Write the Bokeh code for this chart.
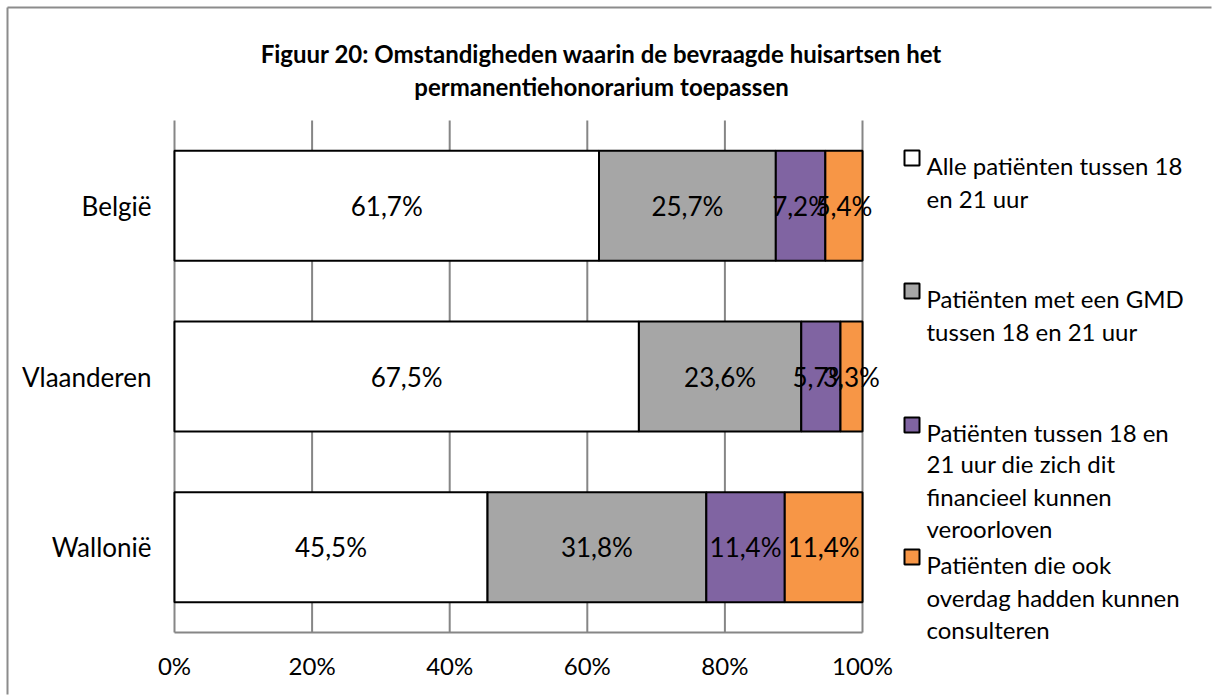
from bokeh.plotting import figure
from bokeh.models import ColumnDataSource, Range1d
from bokeh.core.properties import value
from bokeh.embed import file_html
from bokeh.resources import INLINE

# ---- data ----
regions = ["België", "Vlaanderen", "Wallonië"]
series_names = [
    "Alle patiënten tussen 18 en 21 uur",
    "Patiënten met een GMD tussen 18 en 21 uur",
    "Patiënten tussen 18 en 21 uur die zich dit financieel kunnen veroorloven",
    "Patiënten die ook overdag hadden kunnen consulteren",
]
alle = [61.7, 67.5, 45.5]
gmd = [25.7, 23.6, 31.8]
financieel = [7.2, 5.7, 11.4]
overdag = [5.4, 3.3, 11.4]
x_ticks = [0, 20, 40, 60, 80, 100]
x_tick_labels = ["0%", "20%", "40%", "60%", "80%", "100%"]
title_lines = ["Figuur 20: Omstandigheden waarin de bevraagde huisartsen het",
               "permanentiehonorarium toepassen"]
legend_lines = [
    ["Alle patiënten tussen 18", "en 21 uur"],
    ["Patiënten met een GMD", "tussen 18 en 21 uur"],
    ["Patiënten tussen 18 en", "21 uur die zich dit", "financieel kunnen", "veroorloven"],
    ["Patiënten die ook", "overdag hadden kunnen", "consulteren"],
]
colors = ["#FFFFFF", "#A6A6A6", "#8064A2", "#F79646"]

FONT = value("Lato")
GRID = "#868686"
W, H = 1212, 695
# plot area inside the canvas (pixels)
FL, FR, FT, FB = 174, 862, 120, 632
n = len(regions)
ypos = [n - i - 0.5 for i in range(n)]   # first category on top

# value ranges chosen so that 0..100 % and 0..n fill the plot area exactly
xs = 100.0 / (FR - FL)
ys = n / (FB - FT)
p = figure(width=W, height=H, output_backend="svg", toolbar_location=None,
           x_range=Range1d(-FL * xs, (W - FL) * xs),
           y_range=Range1d(-(H - FB) * ys, FB * ys),
           x_axis_location=None, y_axis_location=None,
           min_border=0, min_border_left=0, min_border_right=0,
           min_border_top=0, min_border_bottom=0)
p.extra_x_ranges = {"px": Range1d(0, W)}
p.extra_y_ranges = {"px": Range1d(H, 0)}
p.outline_line_color = None
p.background_fill_color = "white"
p.border_fill_color = "white"
p.grid.visible = False

# outer chart border (left and top edges visible)
p.segment(x0=[7, 7], y0=[H - 1, 7], x1=[7, W - 1], y1=[7, 7], x_range_name="px",
          y_range_name="px", line_color="#8c8c8c", line_width=2)

# vertical gridlines and axis lines
p.segment(x0=x_ticks, x1=x_ticks, y0=[0] * len(x_ticks), y1=[n] * len(x_ticks),
          line_color=GRID, line_width=2)
p.segment(x0=[0], x1=[100], y0=[0], y1=[0], line_color=GRID, line_width=2)

# stacked bars
series = [alle, gmd, financieel, overdag]
lefts = [0.0] * n
for vals, col in zip(series, colors):
    rights = [min(l + v, 100.0) for l, v in zip(lefts, vals)]
    src = ColumnDataSource(dict(y=ypos, left=lefts, right=rights,
                                xc=[(l + r) / 2 for l, r in zip(lefts, rights)],
                                txt=[("%.1f%%" % v).replace(".", ",") for v in vals]))
    p.hbar(y="y", left="left", right="right", height=0.645, source=src,
           fill_color=col, line_color="black", line_width=2)
    p.text(x="xc", y="y", text="txt", source=src, text_align="center",
           text_baseline="middle", text_font=FONT, text_font_size=value("26px"),
           text_color="black")
    lefts = rights

# tick labels
p.text(x=x_ticks, y=[0] * len(x_ticks), text=x_tick_labels, y_offset=33,
       text_align="center", text_baseline="middle", text_font=FONT,
       text_font_size=value("24px"), text_color="black")
p.text(x=[0] * n, y=ypos, text=regions, x_offset=-23, text_align="right",
       text_baseline="middle", text_font=FONT, text_font_size=value("26px"),
       text_color="black")

# title
p.text(x=[601, 601], y=[53, 86], text=title_lines, x_range_name="px", y_range_name="px",
       text_align="center", text_baseline="alphabetic", text_font=FONT,
       text_font_style="bold", text_font_size=value("24px"), text_color="black")

# legend
baselines = [[165, 198], [298, 331], [432, 463, 496, 528], [564, 597, 629]]
p.quad(left=[904] * 4, right=[919] * 4, top=[b[0] - 15 for b in baselines],
       bottom=[b[0] for b in baselines], x_range_name="px", y_range_name="px",
       fill_color=colors, line_color="black", line_width=2)
lx, ly, lt = [], [], []
for lines, bls in zip(legend_lines, baselines):
    for t, b in zip(lines, bls):
        lx.append(926)
        ly.append(b)
        lt.append(t)
p.text(x=lx, y=ly, text=lt, x_range_name="px", y_range_name="px", text_align="left",
       text_baseline="alphabetic", text_font=FONT, text_font_size=value("24px"),
       text_color="black")

open("out.html", "w").write(file_html(p, INLINE))
